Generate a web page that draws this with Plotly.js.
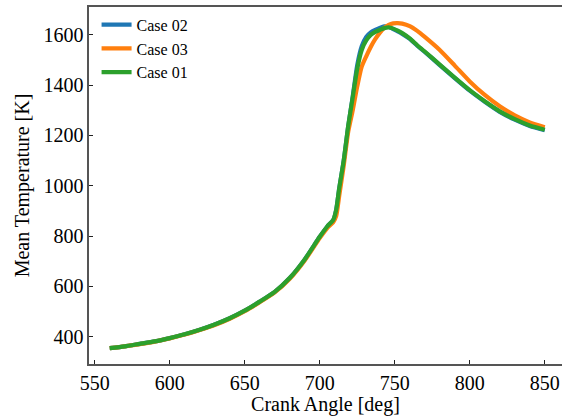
<!DOCTYPE html>
<html>
<head>
<meta charset="utf-8">
<script src="https://cdn.plot.ly/plotly-3.0.1.min.js"></script>
<style>html,body{margin:0;padding:0;background:#fff;overflow:hidden;}#chart{width:562px;height:416px;}</style>
</head>
<body>
<div id="chart"></div>
<script>
var angle = [560, 570, 580, 590, 600, 610, 620, 630, 640, 650, 660, 670, 680, 690, 700, 705, 709, 711, 713, 716, 719, 722, 725, 728, 731, 734, 737, 740, 743, 746, 749, 752, 755, 760, 765, 770, 780, 790, 800, 810, 820, 830, 840, 850];

var case02 = [354, 361, 371, 381, 394, 409, 427, 448, 473, 503, 539, 578, 633, 707, 797, 838, 864, 905, 990, 1100, 1238, 1355, 1480, 1555, 1592, 1610, 1620, 1628, 1634, 1632, 1623, 1614, 1604, 1584, 1557, 1532, 1480, 1428, 1378, 1334, 1294, 1263, 1238, 1221];

var case03 = [354, 361, 370, 380, 393, 408, 426, 446, 471, 501, 537, 576, 630, 703, 792, 832, 855, 880, 960, 1080, 1215, 1300, 1395, 1474, 1515, 1552, 1583, 1608, 1628, 1640, 1646, 1647, 1645, 1635, 1616, 1592, 1540, 1478, 1415, 1361, 1316, 1280, 1252, 1233];

var case01 = [354, 361, 371, 381, 394, 409, 427, 448, 473, 503, 539, 578, 633, 707, 797, 838, 864, 905, 990, 1100, 1238, 1352, 1465, 1540, 1578, 1600, 1612, 1620, 1627, 1630, 1625, 1617, 1607, 1586, 1559, 1534, 1482, 1430, 1380, 1336, 1296, 1265, 1240, 1223];

var seriesNames = ["Case 02", "Case 03", "Case 01"];
var seriesData = [case02, case03, case01];
var seriesColors = ["#1f77b4", "#ff7f0e", "#2ca02c"];

var traces = seriesData.map(function (ys, i) {
  return {
    x: angle, y: ys, type: "scatter", mode: "lines", name: seriesNames[i],
    line: {color: seriesColors[i], width: 4.2, shape: "spline", smoothing: 0.6}
  };
});

var fontFam = "Liberation Serif, Times New Roman, serif";
var layout = {
  width: 562, height: 416,
  margin: {l: 89, r: 0, t: 7, b: 52, pad: 0},
  paper_bgcolor: "#fff", plot_bgcolor: "#fff",
  font: {family: fontFam, color: "#000", size: 20},
  showlegend: true,
  legend: {
    x: 0.016, y: 0.998, xanchor: "left", yanchor: "top",
    bgcolor: "rgba(255,255,255,0)", borderwidth: 0,
    font: {family: fontFam, size: 16, color: "#000"},
    tracegroupgap: 0
  },
  xaxis: {
    range: [546.2, 861.5], tickvals: [550, 600, 650, 700, 750, 800, 850],
    ticks: "inside", ticklen: 4, tickwidth: 1, tickcolor: "#222",
    showline: true, linecolor: "#555", linewidth: 1.6, mirror: true,
    showgrid: false, zeroline: false,
    tickfont: {family: fontFam, size: 20, color: "#000"},
    title: {text: "Crank Angle [deg]", font: {family: fontFam, size: 20, color: "#000"}, standoff: 3}
  },
  yaxis: {
    range: [291, 1711], tickvals: [400, 600, 800, 1000, 1200, 1400, 1600],
    ticks: "inside", ticklen: 4, tickwidth: 1, tickcolor: "#222",
    showline: true, linecolor: "#555", linewidth: 1.6, mirror: false,
    showgrid: false, zeroline: false,
    tickfont: {family: fontFam, size: 20, color: "#000"},
    title: {text: "Mean Temperature [K]", font: {family: fontFam, size: 20, color: "#000"}, standoff: 8}
  }
};

Plotly.newPlot("chart", traces, layout, {displayModeBar: false, staticPlot: true});
</script>
</body>
</html>
